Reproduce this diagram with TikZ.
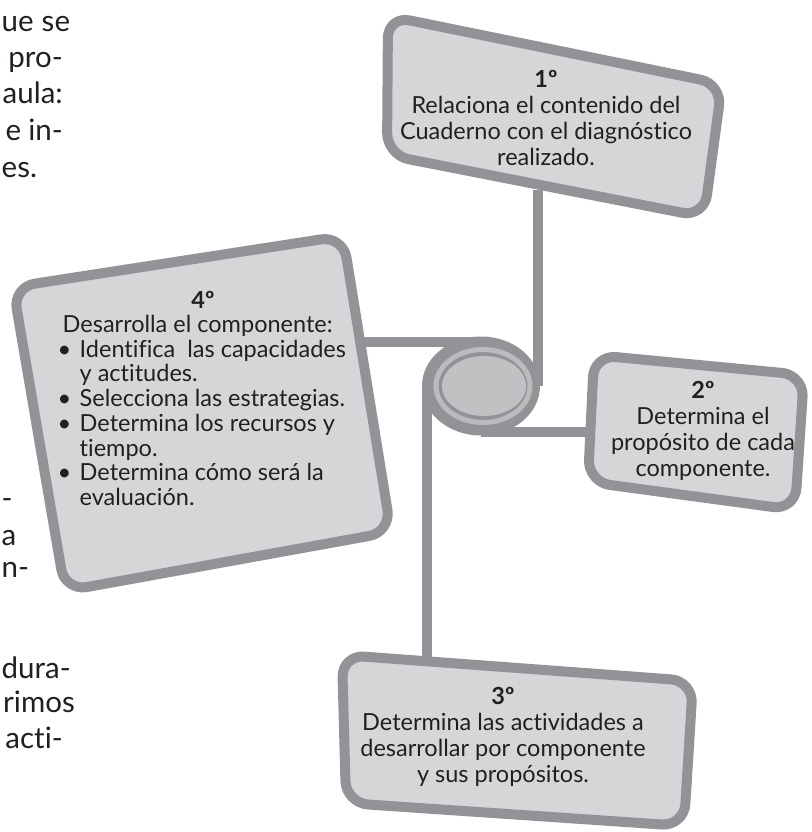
\documentclass[tikz,border=0pt]{standalone}
\usepackage{fontspec}
\setmainfont{Lato}[Ligatures={NoCommon}]
\usetikzlibrary{shapes.geometric}
\definecolor{bordergray}{RGB}{146,147,151}
\definecolor{boxfill}{RGB}{213,214,216}
\definecolor{hubfill}{RGB}{192,193,195}
\definecolor{ringlight}{RGB}{186,187,189}
\definecolor{inkc}{RGB}{35,31,32}
\begin{document}
\begin{tikzpicture}[x=1pt,y=-1pt,
  box/.style={draw=bordergray, fill=boxfill, line width=10pt, rounded corners=22pt, line join=round},
  link/.style={draw=bordergray, line width=10pt},
  boxtext/.style={text=inkc, align=center, font=\fontsize{23.5}{26.2}\selectfont, inner sep=0pt},
  listtext/.style={text=inkc, align=left, font=\fontsize{23.5}{24.7}\selectfont, inner sep=0pt},
  edgetext/.style={text=inkc, font=\fontsize{29.5}{36}\selectfont, inner sep=0pt}]
\useasboundingbox (0,0) rectangle (811,832);

% hub
\node[ellipse, fill=bordergray, minimum width=118pt, minimum height=99pt, inner sep=0pt] (hub) at (481,386) {};

% connector end points on the boxes
\coordinate (s1) at (538,190);
\coordinate (s2) at (588,432);
\coordinate (s3) at (427,660);
\coordinate (s4) at (362,342);

\draw[link] (s1) -- (s1 |- hub.center);
\draw[link] (s2 -| hub.center) -- (s2);
\draw[link] (s3 |- hub.center) -- (s3);
\draw[link] (s4) -- (s4 -| hub.center);

\node[ellipse, draw=ringlight, line width=5pt, minimum width=94pt, minimum height=73pt, inner sep=0pt] (ring) at (483,386) {};
\node[ellipse, fill=hubfill, minimum width=84pt, minimum height=60pt, inner sep=0pt] (core) at (484,386) {};

% boxes
\draw[box] (388,16) -- (722,84) -- (704,217) -- (387,155) -- cycle;
\draw[box] (594,355) -- (804,375) -- (795,510) -- (588,482) -- cycle;
\draw[box] (342,655) -- (693,681) -- (684,826) -- (346,803) -- cycle;
\draw[box] (13,287) -- (343,236) -- (391,532) -- (65,591) -- cycle;

% box texts
\node[boxtext] (t1) at (546,118) {\textbf{1º}\\Relaciona el contenido del\\Cuaderno con el diagnóstico\\realizado.};
\node[boxtext] (t2) at (703,431) {\textbf{2º}\\Determina el\\propósito de cada\\componente.};
\node[boxtext] (t3) at (503,737) {\textbf{3º}\\Determina las actividades a\\desarrollar por componente\\y sus propósitos.};
\node[boxtext] (t4h) at (203,300) {\textbf{4º}};
\node[listtext, anchor=north west] (t4) at (57.5,315) {%
\begin{tabular}{@{}p{22pt}@{}l@{}}
\multicolumn{2}{@{}l@{}}{\hspace{5pt}Desarrolla el componente:}\\
• & Identifica\ \ las capacidades\\
  & y actitudes.\\
• & Selecciona las estrategias.\\
• & Determina los recursos y\\
  & tiempo.\\
• & Determina cómo será la\\
  & evaluación.
\end{tabular}};

% fragments of the surrounding page text
\node[edgetext, anchor=base west] (l1) at (1.5,31.5) {ue\hspace{8pt}se};
\node[edgetext, anchor=base east] (l2) at (63,68) {pro-};
\node[edgetext, anchor=base east] (l3) at (63,103) {aula:};
\node[edgetext, anchor=base east] (l4) at (63,140) {e\hspace{7pt}in-};
\node[edgetext, anchor=base west] (l5) at (1.5,177) {es.};
\node[edgetext, anchor=base west] (m1) at (1.5,508) {-};
\node[edgetext, anchor=base west] (m2) at (1.5,545) {a};
\node[edgetext, anchor=base west] (m3) at (1.5,577) {n-};
\node[edgetext, anchor=base west] (b1) at (1.5,678) {dura-};
\node[edgetext, anchor=base west] (b2) at (3,712) {rimos};
\node[edgetext, anchor=base east] (b3) at (63,748) {acti-};
\end{tikzpicture}
\end{document}
